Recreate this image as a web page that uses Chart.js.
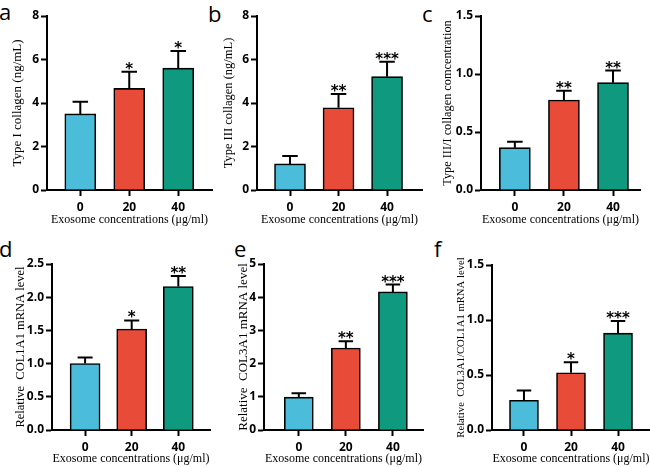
<!DOCTYPE html>
<html>
<head>
<meta charset="utf-8">
<script src="https://cdn.jsdelivr.net/npm/chart.js@4"></script>
<style>
body { margin: 0; background: #fff; width: 650px; height: 467px; position: relative; overflow: hidden; }
canvas { position: absolute; }
.lab { position: absolute; font-family: "Open Sans"; font-size: 22px; line-height: 22px; color: #000; }
</style>
</head>
<body>
<div class="lab" style="left:-1px;top:0px">a</div>
<div class="lab" style="left:208px;top:2px">b</div>
<div class="lab" style="left:422px;top:2px">c</div>
<div class="lab" style="left:-1px;top:237px">d</div>
<div class="lab" style="left:234px;top:237px">e</div>
<div class="lab" style="left:434px;top:237px">f</div>
<canvas id="pa"></canvas>
<canvas id="pb"></canvas>
<canvas id="pc"></canvas>
<canvas id="pd"></canvas>
<canvas id="pe"></canvas>
<canvas id="pf"></canvas>
<script>
// data
const categories = ['0', '20', '40'];

const typeI = [3.5, 4.67, 5.6];
const typeIErr = [4.06, 5.44, 6.39];
const typeISig = ['', '*', '*'];

const typeIII = [1.2, 3.78, 5.21];
const typeIIIErr = [1.56, 4.41, 5.9];
const typeIIISig = ['', '**', '***'];

const ratioIIIvsI = [0.365, 0.776, 0.925];
const ratioIIIvsIErr = [0.416, 0.856, 1.03];
const ratioIIIvsISig = ['', '**', '**'];

const col1a1 = [1.0, 1.52, 2.16];
const col1a1Err = [1.09, 1.65, 2.32];
const col1a1Sig = ['', '*', '**'];

const col3a1 = [0.99, 2.47, 4.16];
const col3a1Err = [1.11, 2.67, 4.38];
const col3a1Sig = ['', '**', '***'];

const col3vs1 = [0.27, 0.52, 0.88];
const col3vs1Err = [0.36, 0.615, 0.99];
const col3vs1Sig = ['', '*', '***'];

const collagenTicks = [0, 2, 4, 6, 8];
const ratioTicks = [0, 0.5, 1.0, 1.5];
const col1a1Ticks = [0, 0.5, 1.0, 1.5, 2.0, 2.5];
const col3a1Ticks = [0, 1, 2, 3, 4, 5];

const barColors = ['#4bbcd9', '#e84c38', '#0f9a80'];
const xTitle = 'Exosome concentrations (\u03bcg/ml)';

// upper error bars + significance stars
const errPlugin = {
  id: 'errs',
  afterDatasetsDraw(chart, args, opts) {
    const ctx = chart.ctx;
    const y = chart.scales.y;
    chart.getDatasetMeta(0).data.forEach((bar, i) => {
      const top = y.getPixelForValue(opts.err[i]);
      const half = bar.width / 4;
      ctx.save();
      ctx.strokeStyle = '#000';
      ctx.lineWidth = 2;
      ctx.beginPath();
      ctx.moveTo(bar.x, bar.y);
      ctx.lineTo(bar.x, top);
      ctx.moveTo(bar.x - half, top);
      ctx.lineTo(bar.x + half, top);
      ctx.stroke();
      if (opts.sig[i]) {
        ctx.fillStyle = '#000';
        ctx.font = 'bold 15px "DejaVu Sans"';
        ctx.textAlign = 'center';
        ctx.textBaseline = 'alphabetic';
        ctx.fillText(opts.sig[i], bar.x, top + 2);
      }
      ctx.restore();
    });
  }
};

function makePanel(id, p) {
  const cv = document.getElementById(id);
  cv.style.left = p.box[0] + 'px';
  cv.style.top = p.box[1] + 'px';
  cv.width = p.box[2];
  cv.height = p.box[3];
  const l = p.area[0] - p.box[0], t = p.area[1] - p.box[1];
  const r = p.area[2] - p.box[0], b = p.area[3] - p.box[1];
  const w = p.box[2], h = p.box[3];

  new Chart(cv, {
    type: 'bar',
    data: {
      datasets: [{
        data: p.values.map((v, i) => ({ x: i, y: v })),
        backgroundColor: barColors,
        borderColor: '#000',
        borderWidth: 1.6,
        barThickness: p.bar
      }]
    },
    options: {
      responsive: false,
      animation: false,
      layout: { padding: { left: 0, top: t, right: w - r, bottom: 0 } },
      plugins: {
        legend: { display: false },
        tooltip: { enabled: false },
        errs: { err: p.err, sig: p.sig }
      },
      scales: {
        x: {
          type: 'linear',
          min: p.xr[0],
          max: p.xr[1],
          offset: false,
          afterBuildTicks: s => { s.ticks = categories.map((c, i) => ({ value: i })); },
          afterFit: s => { s.height = h - b; },
          ticks: {
            callback: v => categories[v],
            color: '#000',
            font: { family: 'Open Sans', weight: 'bold', size: 12 },
            padding: 4,
            maxRotation: 0,
            autoSkip: false
          },
          grid: { drawOnChartArea: false, offset: false, tickLength: 6, tickWidth: 2, tickColor: '#000' },
          border: { color: '#000', width: 2 },
          title: {
            display: true,
            text: xTitle,
            color: '#000',
            font: { family: 'Liberation Serif', size: 12 },
            padding: { top: 0, bottom: h - (p.ty - p.box[1]) - 7.2 }
          }
        },
        y: {
          min: p.ticks[0],
          max: p.ticks[p.ticks.length - 1],
          afterBuildTicks: s => { s.ticks = p.ticks.map(v => ({ value: v })); },
          afterFit: s => { s.width = l; },
          ticks: {
            callback: v => v.toFixed(p.dec),
            color: '#000',
            font: { family: 'Open Sans', weight: 'bold', size: 12 },
            padding: 2
          },
          grid: { drawOnChartArea: false, tickLength: 6, tickWidth: 2, tickColor: '#000' },
          border: { color: '#000', width: 2 },
          title: {
            display: true,
            text: p.yTitle,
            color: '#000',
            font: { family: 'Liberation Serif', size: p.yFont },
            padding: { top: (p.tx - p.box[0]) - p.yFont * 0.6, bottom: 0 }
          }
        }
      }
    },
    plugins: [errPlugin]
  });
}

makePanel('pa', {
  box: [0, 0, 215, 230], area: [47, 16, 212, 190], tx: 18, ty: 220, xr: [-0.68, 2.69], bar: 31,
  values: typeI, err: typeIErr, sig: typeISig, ticks: collagenTicks, dec: 0,
  yTitle: 'Type I collagen (ng/mL)', yFont: 13
});
makePanel('pb', {
  box: [215, 0, 215, 230], area: [257, 16, 422, 190], tx: 229, ty: 220, xr: [-0.68, 2.72], bar: 31,
  values: typeIII, err: typeIIIErr, sig: typeIIISig, ticks: collagenTicks, dec: 0,
  yTitle: 'Type III collagen (ng/mL)', yFont: 12.5
});
makePanel('pc', {
  box: [430, 0, 220, 230], area: [481, 16, 640, 190], tx: 448, ty: 220, xr: [-0.69, 2.55], bar: 31,
  values: ratioIIIvsI, err: ratioIIIvsIErr, sig: ratioIIIvsISig, ticks: ratioTicks, dec: 1,
  yTitle: 'Type III/I collagen comcentration', yFont: 12.3
});
makePanel('pd', {
  box: [0, 232, 215, 235], area: [52, 264, 210, 430], tx: 21, ty: 459, xr: [-0.71, 2.68], bar: 30,
  values: col1a1, err: col1a1Err, sig: col1a1Sig, ticks: col1a1Ticks, dec: 1,
  yTitle: 'Relative  COL1A1 mRNA level', yFont: 12.5
});
makePanel('pe', {
  box: [215, 232, 215, 235], area: [264, 264, 423, 430], tx: 244, ty: 459, xr: [-0.74, 2.64], bar: 29,
  values: col3a1, err: col3a1Err, sig: col3a1Sig, ticks: col3a1Ticks, dec: 0,
  yTitle: 'Relative  COL3A1 mRNA level', yFont: 13
});
makePanel('pf', {
  box: [430, 232, 220, 235], area: [492, 265, 650, 430], tx: 461, ty: 459, xr: [-0.68, 2.68], bar: 29,
  values: col3vs1, err: col3vs1Err, sig: col3vs1Sig, ticks: ratioTicks, dec: 1,
  yTitle: 'Relative  COL3A1/COL1A1 mRNA level', yFont: 10.7
});
</script>
</body>
</html>
